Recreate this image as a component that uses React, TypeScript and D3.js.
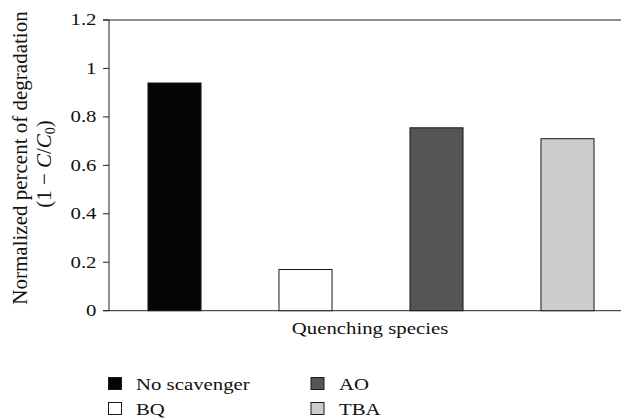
import React, { useEffect } from "react";
import * as d3 from "d3";

// Quenching experiment: normalized degradation per scavenger
const categories = ["No scavenger", "BQ", "AO", "TBA"];
const values = [0.94, 0.17, 0.755, 0.71];
const fills = ["#050505", "#ffffff", "#555555", "#cccccc"];
const yTicks = [0, 0.2, 0.4, 0.6, 0.8, 1, 1.2];
const yTickLabels = ["0", "0.2", "0.4", "0.6", "0.8", "1", "1.2"];

const W = 621;
const H = 419;
const FONT = "'Liberation Serif', 'Times New Roman', serif";
const FS = 16; // upright label size
const SX = 1.3; // horizontal widening of the upright labels

export default function App() {
  useEffect(() => {
    document.body.style.margin = "0";
  }, []);

  const plotLeft = 109;
  const plotTop = 20;
  const plotBottom = 310.7;

  const y = d3.scaleLinear().domain([0, 1.2]).range([plotBottom, plotTop]);
  const x = d3
    .scaleBand<string>()
    .domain(categories)
    .range([plotLeft, plotLeft + 524])
    .paddingInner(0.595)
    .paddingOuter(0.2975);

  const axisColor = "#222";
  const textColor = "#111";

  return (
    <svg width={W} height={H} style={{ display: "block", background: "#fff" }} fontFamily={FONT}>
      {/* y axis line */}
      <line x1={plotLeft} x2={plotLeft} y1={y(1.2)} y2={y(0)} stroke={axisColor} strokeWidth={1} />
      {/* top frame line and x axis line */}
      <line x1={103} x2={W} y1={y(1.2)} y2={y(1.2)} stroke={axisColor} strokeWidth={1} />
      <line x1={103} x2={W} y1={y(0)} y2={y(0)} stroke={axisColor} strokeWidth={1} />
      {/* ticks and labels */}
      {yTicks.map((t, i) => (
        <g key={t}>
          <line x1={103} x2={plotLeft} y1={y(t)} y2={y(t)} stroke={axisColor} strokeWidth={1} />
          <text
            transform={`translate(96.5,${y(t)}) scale(${SX},1)`}
            textAnchor="end"
            dy="0.34em"
            fontSize={FS}
            fill={textColor}
          >
            {yTickLabels[i]}
          </text>
        </g>
      ))}
      {/* bars */}
      {categories.map((c, i) => (
        <rect
          key={c}
          x={x(c)!}
          y={y(values[i])}
          width={x.bandwidth()}
          height={y(0) - y(values[i])}
          fill={fills[i]}
          stroke="#1a1a1a"
          strokeWidth={1}
        />
      ))}
      {/* x axis title */}
      <text
        transform={`translate(370,334) scale(${SX},1)`}
        textAnchor="middle"
        fontSize={FS}
        fill={textColor}
      >
        Quenching species
      </text>
      {/* y axis title */}
      <text transform="translate(27.3,158) rotate(-90)" textAnchor="middle" fontSize={21} fill={textColor}>
        Normalized percent of degradation
      </text>
      <text transform="translate(51,164) rotate(-90)" textAnchor="middle" fontSize={21} fill={textColor}>
        (1 − <tspan fontStyle="italic">C</tspan>/<tspan fontStyle="italic">C</tspan>
        <tspan fontSize={14} dy={4}>0</tspan>
        <tspan dy={-4}>)</tspan>
      </text>
      {/* legend: column 1 = No scavenger, BQ; column 2 = AO, TBA */}
      {categories.map((c, i) => {
        const colIdx = i < 2 ? 0 : 1;
        const rowIdx = i % 2;
        const sx = colIdx === 0 ? 108.5 : 311;
        const tx = colIdx === 0 ? 136 : 339;
        const base = rowIdx === 0 ? 390 : 415;
        return (
          <g key={`lg-${c}`}>
            <rect
              x={sx}
              y={base - 12.5}
              width={13}
              height={12}
              fill={fills[i]}
              stroke="#1a1a1a"
              strokeWidth={1}
            />
            <text transform={`translate(${tx},${base}) scale(${SX},1)`} fontSize={FS} fill={textColor}>
              {c}
            </text>
          </g>
        );
      })}
    </svg>
  );
}
